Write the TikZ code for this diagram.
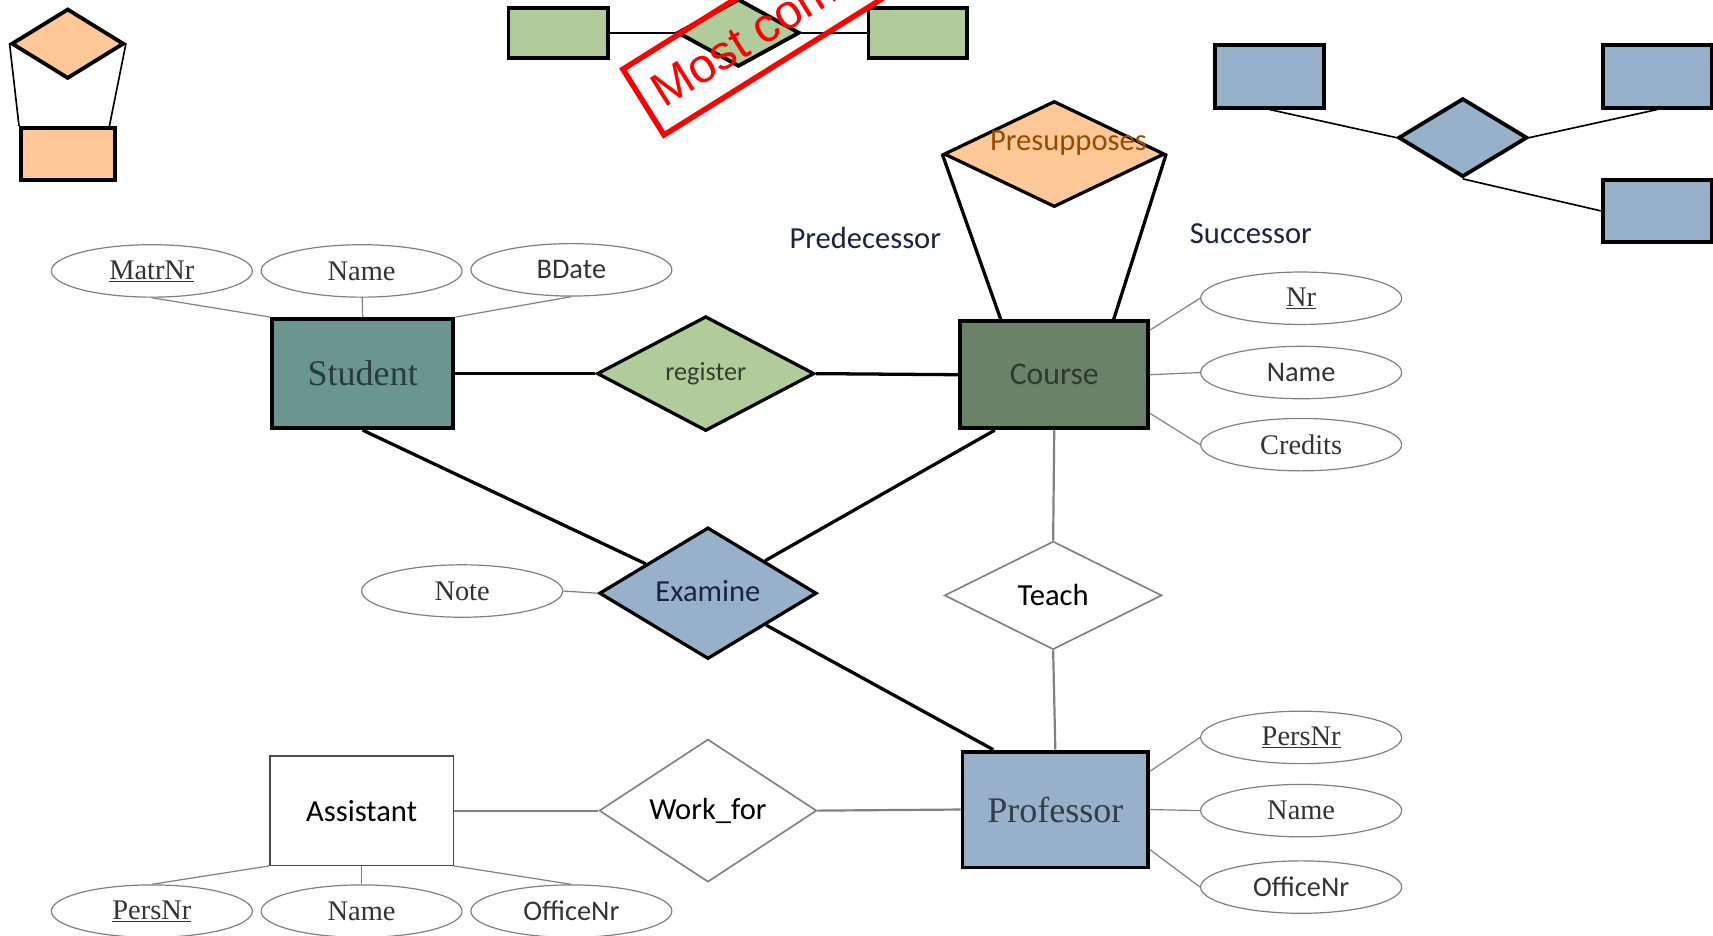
\documentclass[tikz,border=0pt]{standalone}
\usepackage{fontspec}
\setmainfont{Liberation Serif}
\setsansfont{Carlito}
\newfontfamily\stampfont{Liberation Sans}
\usetikzlibrary{shapes.geometric}

\definecolor{peach}{HTML}{FFC896}
\definecolor{leaf}{HTML}{B1CC9A}
\definecolor{steel}{HTML}{98B1CA}
\definecolor{studentfill}{HTML}{6A968F}
\definecolor{coursefill}{HTML}{6A8268}
\definecolor{inkblue}{HTML}{1A2340}

\begin{document}
\begin{tikzpicture}[x=1pt, y=-1pt,
	ent/.style={draw, line width=3.5pt, inner sep=0pt, font=\fontsize{33}{36}\selectfont},
	rel/.style={diamond, draw, line width=3pt, inner sep=0pt, font=\sffamily\fontsize{28}{30}\selectfont},
	attr/.style={ellipse, draw=gray, line width=1.1pt, minimum width=184pt, minimum height=48pt, inner sep=0pt, text=black!80, font=\fontsize{26}{28}\selectfont},
	sample/.style={draw, line width=3.5pt, inner sep=0pt},
	attrline/.style={draw=gray, line width=1.1pt},
	relline/.style={line width=3pt},
	weakline/.style={draw=gray, line width=2pt},
	role/.style={text=inkblue, font=\sffamily\fontsize{28}{30}\selectfont}]
	\clip (0,0) rectangle (1568,856);
	%\draw[help lines] (0,0) grid[step=100] (1568,856);
	
	% legend shapes
	\node[sample, diamond, fill=peach, minimum width=103pt, minimum height=64pt] (odia) at (62,40) {};
	\node[sample, fill=peach, minimum width=86pt, minimum height=48pt] (orect) at (62,141) {};
	\draw[line width=1.5pt] (odia.west) -- (orect.150);
	\draw[line width=1.5pt] (odia.east) -- (orect.34);
	
	\node[sample, fill=leaf, minimum width=91pt, minimum height=46pt] (grect1) at (511,30) {};
	\node[sample, diamond, fill=leaf, minimum width=112pt, minimum height=62pt] (gdia) at (676,30) {};
	\node[sample, fill=leaf, minimum width=90pt, minimum height=46pt] (grect2) at (840,30) {};
	\draw[line width=2pt] (grect1) -- (gdia) -- (grect2);
	
	\node[sample, fill=steel, minimum width=100pt, minimum height=57pt] (brect1) at (1162,70) {};
	\node[sample, fill=steel, minimum width=100pt, minimum height=57pt] (brect2) at (1517,70) {};
	\node[sample, fill=steel, minimum width=100pt, minimum height=57pt] (brect3) at (1517,193) {};
	\node[sample, diamond, fill=steel, minimum width=118pt, minimum height=72pt] (bdia) at (1339,126) {};
	\draw[line width=1.5pt] (brect1.south) -- (bdia.west);
	\draw[line width=1.5pt] (bdia.east) -- (brect2.south);
	\draw[line width=1.5pt] (bdia.south) -- (brect3.west);
	
	\node[draw=red, line width=5pt, text=red, rotate=32, anchor=south west, minimum height=71pt, inner xsep=13pt,
		font=\stampfont\fontsize{44}{46}\selectfont] (stamp) at (607,127) {Most common};
	
	% entities
	\node[ent, fill=studentfill, text=black!60!studentfill, minimum width=166pt, minimum height=100pt] (Student) at (332,342) {\raisebox{-4pt}{Student}};
	\node[ent, fill=coursefill, text=black!55!coursefill, font=\sffamily\fontsize{29}{32}\selectfont,
		minimum width=172pt, minimum height=98pt] (Course) at (965,343) {\raisebox{-3pt}{Course}};
	\node[ent, fill=steel, text=black!65!steel, minimum width=170pt, minimum height=106pt] (Professor) at (966,741) {\raisebox{-6pt}{Professor}};
	\node[ent, draw=black!70, line width=1.3pt, font=\sffamily\fontsize{28}{30}\selectfont,
		minimum width=168pt, minimum height=100pt] (Assistant) at (331,742) {Assistant};
	
	% relationships
	\node[rel, fill=peach, minimum width=202pt, minimum height=97pt,
		label={[xshift=13pt, yshift=10pt, text=orange!60!black, font=\sffamily\fontsize{28}{30}\selectfont]center:Presupposes}] (Presupp) at (965,141) {};
	\node[rel, fill=leaf, text=black!70!leaf, font=\sffamily\fontsize{24}{26}\selectfont,
		minimum width=199pt, minimum height=105pt] (register) at (646,342) {register};
	\node[rel, fill=steel, text=inkblue, minimum width=199pt, minimum height=101pt] (Examine) at (648,543) {\raisebox{5pt}{Examine}};
	\node[rel, draw=gray, line width=1.5pt, minimum width=199pt, minimum height=99pt] (Teach) at (964,545) {Teach};
	\node[rel, draw=gray, line width=1.5pt, minimum width=199pt, minimum height=100pt] (Workfor) at (648,742) {Work\_for};
	
	\node[role] (pred) at (792,218) {Predecessor};
	\node[role] (succ) at (1145,214) {Successor};
	
	% attributes
	\foreach \n\s\x\y in {mnr/\underline{MatrNr}/139/248, sname/Name/331/248, bdate/\sffamily BDate/523/247,
		cnr/\underline{Nr}/1191/273, cname/\sffamily Name/1191/341, credits/Credits/1191/407,
		note/Note/423/541,
		pnr/\underline{PersNr}/1191/675, pname/Name/1191/742, poffice/\sffamily OfficeNr/1191/812,
		anr/\underline{PersNr}/139/834, aname/Name/331/834, aoffice/\sffamily OfficeNr/523/834}
	\node[attr] (\n) at (\x,\y) {\s};
	
	\foreach \a\b in {mnr.south/Student.north west, sname/Student.north, bdate.south/Student.north east,
		cnr.west/Course.25, cname.west/Course.east, credits.west/Course.-22,
		note.east/Examine.west,
		pnr.west/Professor.22, pname.west/Professor.east, poffice.west/Professor.-23,
		anr.north/Assistant.south west, aname/Assistant.south, aoffice.north/Assistant.south east}
	\draw[attrline] (\a) -- (\b);
	
	\draw[relline] (Student.east) -- (register.west);
	\draw[relline] (register.east) -- (Course.west);
	\draw[relline] (Student.south) -- (Examine);
	\draw[relline] (Course.-137) -- (Examine);
	\draw[relline] (Examine) -- (Professor.136);
	\draw[relline] (Presupp.west) -- (Course.134);
	\draw[relline] (Presupp.east) -- (Course.43);
	
	\draw[weakline] (Course.south) -- (Teach.north);
	\draw[weakline] (Teach.south) -- (Professor.north);
	\draw[weakline] (Assistant.east) -- (Workfor.west);
	\draw[weakline] (Workfor.east) -- (Professor.west);
\end{tikzpicture}
\end{document}
